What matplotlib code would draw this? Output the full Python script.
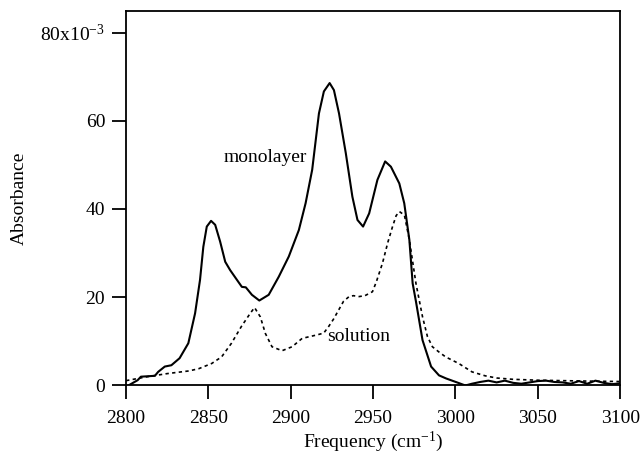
import numpy as np
import matplotlib
matplotlib.use("Agg")
import matplotlib.pyplot as plt
from matplotlib.ticker import FuncFormatter

plt.rcParams['font.family'] = ['Liberation Serif', 'DejaVu Serif']
plt.rcParams['mathtext.fontset'] = 'custom'
plt.rcParams['mathtext.rm'] = 'Liberation Serif'
plt.rcParams['mathtext.it'] = 'Liberation Serif:italic'

# absorbance values in units of 1e-3
mono_freq = [2800, 2807, 2809, 2817.5, 2819.5, 2823.5, 2827.5, 2832.5, 2837.8, 2841.9,
             2844.9, 2846.9, 2849, 2851.6, 2854.1, 2857.1, 2860.2, 2863.2, 2867.3, 2870.3,
             2872.7, 2876.4, 2880.9, 2886.6, 2892.7, 2898.8, 2904.9, 2909, 2913, 2917.1,
             2920.1, 2923.6, 2926.2, 2929.3, 2933.4, 2937.4, 2940.5, 2943.9, 2947.6, 2952.6,
             2957.3, 2960.8, 2965.9, 2968.9, 2972, 2974, 2976, 2980, 2985.2, 2990,
             2994.3, 3002.4, 3006, 3010, 3015, 3020, 3025, 3030, 3035, 3040,
             3045, 3050, 3055, 3060, 3065, 3070, 3075, 3080, 3085, 3090,
             3095, 3100]
mono_abs = [-0.4, 1.1, 1.9, 2.1, 3.0, 4.2, 4.5, 6.1, 9.5, 16.3,
            23.9, 31.4, 36, 37.3, 36.4, 32.6, 28, 26.1, 23.9, 22.3,
            22.2, 20.5, 19.2, 20.5, 24.6, 29.2, 35.2, 41.3, 48.9, 61.7,
            66.7, 68.6, 67, 61.7, 52.7, 42.8, 37.5, 36, 39, 46.6,
            50.8, 49.6, 45.8, 41.3, 33, 23.1, 19, 10.2, 4.2, 2.2,
            1.5, 0.4, -0.1, 0.3, 0.7, 1.0, 0.6, 1.0, 0.5, 0.3,
            0.6, 0.9, 1.0, 0.7, 0.6, 0.3, 0.9, 0.3, 1.0, 0.5,
            0.2, 0.4]

sol_freq = [2800, 2813, 2825, 2838, 2844, 2852, 2858, 2864, 2870, 2875.4,
            2878, 2881.5, 2884.6, 2888.6, 2894.7, 2900.8, 2906.9, 2916, 2920, 2923,
            2926, 2929, 2932, 2935.4, 2938, 2941.5, 2945, 2949.6, 2952, 2955.7,
            2959, 2961.8, 2964, 2966, 2969, 2972, 2976, 2980, 2983, 2986,
            2990, 2994, 3002, 3010, 3018, 3025, 3035, 3050, 3065, 3080,
            3100]
sol_abs = [1.0, 1.9, 2.6, 3.2, 3.7, 4.9, 6.4, 9.5, 13.3, 16.3,
           17.6, 15.5, 11.7, 8.7, 7.8, 8.7, 10.6, 11.4, 11.8, 13.3,
           15, 17, 19, 20.1, 20.3, 20.1, 20.3, 21.2, 23.5, 27.7,
           32.5, 36, 38.5, 39.4, 38.6, 33, 23.1, 15.5, 11, 8.7,
           7.5, 6.4, 4.9, 3.0, 2.1, 1.6, 1.3, 1.1, 1.0, 0.9,
           0.8]

x_ticks = [2800, 2850, 2900, 2950, 3000, 3050, 3100]
y_ticks = [0, 20, 40, 60, 80]

fig = plt.figure(figsize=(6.4, 4.53), dpi=100)
ax = fig.add_axes([0.197, 0.150, 0.772, 0.826])

ax.plot(mono_freq, mono_abs, color='black', lw=1.5, solid_joinstyle='round')
ax.plot(sol_freq, sol_abs, color='black', lw=1.2, linestyle=(0, (2, 2)))

ax.set_xlim(2800, 3100)
ax.set_ylim(0, 85)
ax.set_xticks(x_ticks)
ax.set_yticks(y_ticks)

def ylab(v, pos):
    if int(v) == 80:
        return r'80x10$^{\mathrm{-3}}$'
    return '%d' % v

ax.yaxis.set_major_formatter(FuncFormatter(ylab))
ax.tick_params(direction='out', length=10, width=1.3, labelsize=14)
ax.tick_params(axis='x', pad=8)
ax.tick_params(axis='y', pad=5)
for s in ax.spines.values():
    s.set_linewidth(1.3)

ax.set_xlabel(r'Frequency (cm$^{\mathrm{-1}}$)', fontsize=14, labelpad=2)
ax.set_ylabel('Absorbance', fontsize=14, labelpad=9)

ax.text(2884.6, 51.8, 'monolayer', fontsize=14, ha='center', va='center')
ax.text(2941.5, 11.0, 'solution', fontsize=14, ha='center', va='center')

fig.savefig('out.png', dpi=100)
